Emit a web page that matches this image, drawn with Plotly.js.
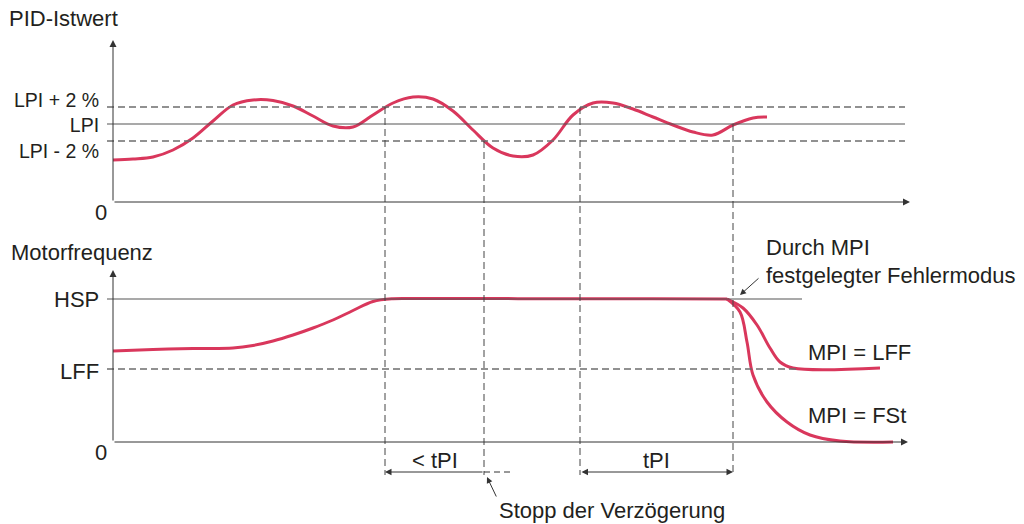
<!DOCTYPE html>
<html><head><meta charset="utf-8">
<script src="https://cdn.plot.ly/plotly-3.0.1.min.js"></script>
<style>html,body{margin:0;padding:0;background:#fff}#chart{width:1024px;height:524px}</style>
</head><body><div id="chart"></div>
<script>
// ---- DATA (time in arbitrary units, values in arbitrary schematic units) ----
const pidTime  = [0, 2, 4, 6, 8, 10, 12, 14, 16, 18, 20, 22, 24, 26, 28, 30, 32, 34, 36, 38, 40, 42, 44, 46, 48, 50, 52, 54, 56, 58, 60, 62, 64, 65.4];
const pidValue = [42, 43, 45, 52, 64, 81, 97, 102, 101.5, 96, 86, 76, 75, 87, 99, 105, 103, 91, 72, 54, 46, 47, 62, 87, 99, 99, 93, 85, 77, 70, 67, 77, 84, 85];

const freqTime  = [0, 4, 8, 12, 14, 16, 18, 20, 22, 24, 26, 28, 30, 34, 44, 54, 61.4];
const freqValue = [91, 92.5, 93.5, 94, 96.5, 101, 107, 114, 122, 131.5, 140.5, 143.3, 143.5, 143.5, 143.3, 143.2, 143];

const lffTime  = [61.4, 63.0, 64.4, 65.7, 66.7, 68.0, 76.7];
const lffValue = [143, 134, 117, 94, 80, 74, 74];

const fstTime  = [61.4, 62.7, 63.4, 64.0, 65.4, 67.4, 69.7, 72.7, 78.0];
const fstValue = [143, 130, 100, 67, 40, 20, 7, 1, 0];

const pidLevelLabels = ['LPI + 2 %', 'LPI', 'LPI - 2 %'];
const pidLevelValues = [95, 78, 61];
const freqLevelLabels = ['HSP', 'LFF'];
const freqLevelValues = [143, 73];
const eventTimes = [27.2, 37.1, 46.7, 62.0];

// ---- STYLE ----
const CURVE = '#d9375c';
const AXIS = '#333333';
const DASH = '#6e6e6e';
const FONT = {family: 'Liberation Sans, Arial, sans-serif', size: 22, color: '#231f20'};
const OFF = 240; // offset between the two panels' value scales (y2 value -> y value)

function curve(x, y, ax) {
  return {x: x, y: y, yaxis: ax, mode: 'lines', hoverinfo: 'skip',
          line: {color: CURVE, width: 3, shape: 'spline', smoothing: 1}};
}
const traces = [
  curve(pidTime, pidValue, 'y'),
  curve(freqTime, freqValue, 'y2'),
  curve(lffTime, lffValue, 'y2'),
  curve(fstTime, fstValue, 'y2')
];

const shapes = [];
const annotations = [];
function hline(x0, x1, y, yref, dash, color, w) {
  shapes.push({type: 'line', xref: 'x', yref: yref, x0: x0, x1: x1, y0: y, y1: y,
               line: {color: color, width: w || 1, dash: dash}});
}
function arrow(x, y, ax, ay, yref, opts) {
  annotations.push(Object.assign({x: x, y: y, ax: ax, ay: ay, xref: 'x', yref: yref,
    axref: 'x', ayref: yref, text: '', showarrow: true, arrowhead: 2, arrowsize: 1.4,
    arrowwidth: 1, arrowcolor: AXIS}, opts || {}));
}
function label(text, x, y, yref, xanchor, font) {
  annotations.push({text: text, x: x, y: y, xref: 'x', yref: yref, xanchor: xanchor,
    yanchor: 'middle', align: xanchor === 'right' ? 'right' : 'left', borderpad: 0,
    showarrow: false, font: font || FONT});
}

// axes
arrow(0, 162, 0, 0, 'y');
arrow(79.7, 0, 0, 0, 'y');
arrow(0, 172, 0, 0, 'y2');
arrow(79.5, 0, 0, 0, 'y2');

// reference levels
hline(-0.6, 79.2, pidLevelValues[0], 'y', '7px,4px', DASH, 1.3);
hline(-0.6, 79.2, pidLevelValues[1], 'y', 'solid', '#555', 1.2);
hline(-0.6, 79.2, pidLevelValues[2], 'y', '7px,4px', DASH, 1.3);
hline(-0.6, 68.9, freqLevelValues[0], 'y2', 'solid', '#555', 1.2);
hline(-0.6, 68.7, freqLevelValues[1], 'y2', '7px,4px', DASH, 1.3);

// event verticals (start where PID curve crosses band)
const eventStart = [pidLevelValues[0], pidLevelValues[2], pidLevelValues[0], pidLevelValues[1]];
eventTimes.forEach((t, i) => {
  shapes.push({type: 'line', xref: 'x', yref: 'y', x0: t, x1: t, y0: eventStart[i], y1: -33 - OFF,
               line: {color: '#444', width: 1, dash: '7px,4px'}});
});

// labels: the three closely packed PID levels as one right-aligned block
label(pidLevelLabels.join('<br>'), -1.3, pidLevelValues[1] - 1, 'y', 'right',
      Object.assign({}, FONT, {size: 19.5}));
const freqOffsets = [0, -2];
freqLevelLabels.forEach((s, i) => label(s, -1.3, freqLevelValues[i] + freqOffsets[i], 'y2', 'right'));
label('0', -0.5, -10, 'y', 'right');
label('0', -0.5, -10, 'y2', 'right');
label('PID-Istwert', -10.5, 184, 'y', 'left');
label('Motorfrequenz', -10.3, 190, 'y2', 'left');
label('Durch MPI', 65.2, 195, 'y2', 'left');
label('festgelegter Fehlermodus', 65.2, 167, 'y2', 'left');
label('MPI = LFF', 69.4, 90, 'y2', 'left');
label('MPI = FSt', 69.4, 27, 'y2', 'left');
label('< tPI', (eventTimes[0] + eventTimes[1]) / 2, -18, 'y2', 'center');
label('tPI', (eventTimes[2] + eventTimes[3]) / 2, -18, 'y2', 'center');
label('Stopp der Verzögerung', 38.5, -68, 'y2', 'left');

// dimension arrows
arrow(eventTimes[0], -30, eventTimes[1], -30, 'y2', {arrowhead: 2, arrowsize: 1.3});
hline(eventTimes[1], 39.7, -30, 'y2', '6px,4px', '#333', 1);
arrow(eventTimes[3], -30, eventTimes[2], -30, 'y2', {arrowside: 'end+start', arrowhead: 2, arrowsize: 1.3});
// pointer arrows
arrow(37.4, -35, 38.4, -56, 'y2', {arrowhead: 2, arrowsize: 1.2});
arrow(62.7, 147, 64.7, 165, 'y2', {arrowhead: 2, arrowsize: 1.2});

const layout = {
  width: 1024, height: 524, margin: {l: 0, r: 0, t: 0, b: 0},
  paper_bgcolor: '#ffffff', plot_bgcolor: '#ffffff', showlegend: false,
  xaxis: {range: [-11.3, 91.1], visible: false, fixedrange: true},
  yaxis: {range: [-322, 202], visible: false, fixedrange: true},
  yaxis2: {range: [-82, 442], visible: false, fixedrange: true, overlaying: 'y'},
  shapes: shapes, annotations: annotations
};
Plotly.newPlot('chart', traces, layout, {staticPlot: true, displayModeBar: false});
</script>
</body></html>
